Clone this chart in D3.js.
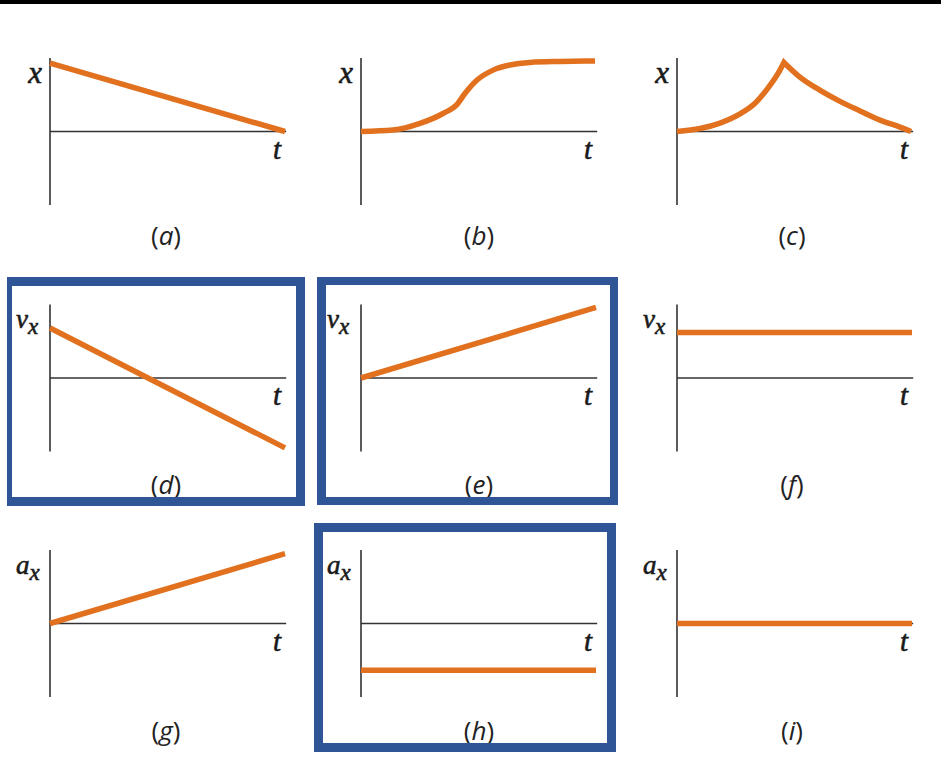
<!DOCTYPE html>
<html>
<head>
<meta charset="utf-8">
<script src="https://cdn.jsdelivr.net/npm/d3@7"></script>
<style>
  html, body { margin: 0; padding: 0; background: #fff; }
  svg { display: block; }
</style>
</head>
<body>
<svg id="chart" width="941" height="776"></svg>
<script>
// Motion graphs: position, velocity and acceleration versus time (t from 0 to 10).
const panelIds = ["a", "b", "c", "d", "e", "f", "g", "h", "i"];
const quantity = ["x", "x", "x", "v", "v", "v", "a", "a", "a"];
const hasSubscript = [false, false, false, true, true, true, true, true, true];
const highlighted = ["d", "e", "h"];

// (a) position falling linearly
const tA = [0, 10];
const xA = [0.93, 0];
// (b) S-shaped position curve
const tB = [0, 1.36, 2.51, 3.49, 4.09, 4.43, 4.94, 5.62, 6.34, 7.19, 8.47, 9.96];
const xB = [0, 0.02, 0.11, 0.245, 0.37, 0.52, 0.70, 0.835, 0.905, 0.94, 0.953, 0.96];
// (c) rising to a cusp, then falling back
const tCRise = [0, 0.98, 1.83, 2.68, 3.32, 3.87, 4.3, 4.55];
const xCRise = [0, 0.04, 0.115, 0.24, 0.385, 0.59, 0.79, 0.94];
const tCFall = [4.55, 5.23, 6.09, 6.94, 7.79, 8.64, 9.49, 9.96];
const xCFall = [0.94, 0.74, 0.56, 0.41, 0.28, 0.155, 0.06, 0];
// (d)-(f) velocity
const tD = [0, 10], vD = [0.68, -0.95];
const tE = [0, 10], vE = [0, 0.96];
const tF = [0, 10], vF = [0.62, 0.62];
// (g)-(i) acceleration
const tG = [0, 10], aG = [0, 0.95];
const tH = [0, 10], aH = [-0.635, -0.635];
const tI = [0, 10], aI = [0, 0];

const zip = (ts, vs) => ts.map((t, i) => ({ t, v: vs[i] }));
const panelSeries = [
  [zip(tA, xA)],
  [zip(tB, xB)],
  [zip(tCRise, xCRise), zip(tCFall, xCFall)],
  [zip(tD, vD)],
  [zip(tE, vE)],
  [zip(tF, vF)],
  [zip(tG, aG)],
  [zip(tH, aH)],
  [zip(tI, aI)]
];

// Layout
const colX = [50, 361, 677];
const rowZero = [131.5, 378, 623.5];
const plotW = 235;
const halfH = 73.5;
const labelX = [166, 479, 792];
const labelY = [245, 494, 740];

const ORANGE = "#e2711f";
const AXIS = "#333333";
const BLUE = "#2f5597";
const INK = "#1a1a1a";
const SERIF = "'Liberation Serif', 'DejaVu Serif', serif";
const SANS = "'Open Sans', 'Noto Sans', sans-serif";

const svg = d3.select("#chart");

// top rule
svg.append("rect").attr("x", 0).attr("y", 0).attr("width", 941).attr("height", 4).attr("fill", "#000");

panelIds.forEach((id, k) => {
  const col = k % 3, row = Math.floor(k / 3);
  const x0 = colX[col], y0 = rowZero[row];
  const xs = d3.scaleLinear().domain([0, 10]).range([x0, x0 + plotW]);
  const ys = d3.scaleLinear().domain([-1, 1]).range([y0 + halfH, y0 - halfH]);
  const g = svg.append("g").attr("class", "panel panel-" + id);

  // axes: vertical value axis and horizontal time axis through zero
  g.append("line")
    .attr("x1", xs(0)).attr("x2", xs(0))
    .attr("y1", ys(1)).attr("y2", ys(-1))
    .attr("stroke", AXIS).attr("stroke-width", 1.6);
  g.append("line")
    .attr("x1", xs(0)).attr("x2", xs(10.05))
    .attr("y1", ys(0)).attr("y2", ys(0))
    .attr("stroke", AXIS).attr("stroke-width", 1.6);

  // curve
  const line = d3.line().x(d => xs(d.t)).y(d => ys(d.v)).curve(d3.curveMonotoneX);
  const parts = panelSeries[k];
  let dStr = line(parts[0]);
  for (let p = 1; p < parts.length; p++) dStr += line(parts[p]).replace(/^M/, "L");
  g.append("path")
    .attr("d", dStr)
    .attr("fill", "none")
    .attr("stroke", ORANGE)
    .attr("stroke-width", 5.5)
    .attr("stroke-linejoin", "miter")
    .attr("stroke-miterlimit", 10);

  // value axis label (slightly thickened italic serif)
  const q = g.append("text")
    .attr("font-family", SERIF)
    .attr("font-style", "italic")
    .attr("fill", INK)
    .attr("stroke", INK)
    .attr("stroke-width", 0.6);
  if (hasSubscript[k]) {
    q.attr("x", xs(0) - 34).attr("y", y0 - 50).attr("font-size", 27);
    q.append("tspan").text(quantity[k]);
    q.append("tspan").attr("font-size", 23).attr("dy", 6).text("x");
  } else {
    q.attr("x", xs(0) - 8).attr("y", y0 - 49).attr("text-anchor", "end")
      .attr("font-size", 31).text(quantity[k]);
  }

  // time axis label
  g.append("text")
    .attr("x", xs(0) + 227).attr("y", y0 + 27)
    .attr("text-anchor", "middle")
    .attr("font-family", SERIF)
    .attr("font-style", "italic")
    .attr("font-size", 29)
    .attr("fill", INK)
    .attr("stroke", INK)
    .attr("stroke-width", 0.6)
    .text("t");

  // panel caption
  const cap = svg.append("text")
    .attr("x", labelX[col]).attr("y", labelY[row])
    .attr("text-anchor", "middle")
    .attr("font-family", SANS)
    .attr("font-size", 26)
    .attr("fill", "#222");
  cap.append("tspan").text("(");
  cap.append("tspan").attr("font-style", "italic").text(id);
  cap.append("tspan").text(")");
});

// highlight frames around selected panels (outer and inner edges)
const frames = {
  d: { outer: [7, 277, 305, 506], inner: [12, 286, 296, 497] },
  e: { outer: [317, 277, 618, 505], inner: [326, 285, 610, 497] },
  h: { outer: [314, 523, 616, 752], inner: [323, 532, 607, 743] }
};
const rectPath = ([x1, y1, x2, y2]) => `M${x1},${y1}H${x2}V${y2}H${x1}Z`;
highlighted.forEach(id => {
  const f = frames[id];
  svg.append("path")
    .attr("d", rectPath(f.outer) + rectPath(f.inner))
    .attr("fill", BLUE)
    .attr("fill-rule", "evenodd");
});
</script>
</body>
</html>
